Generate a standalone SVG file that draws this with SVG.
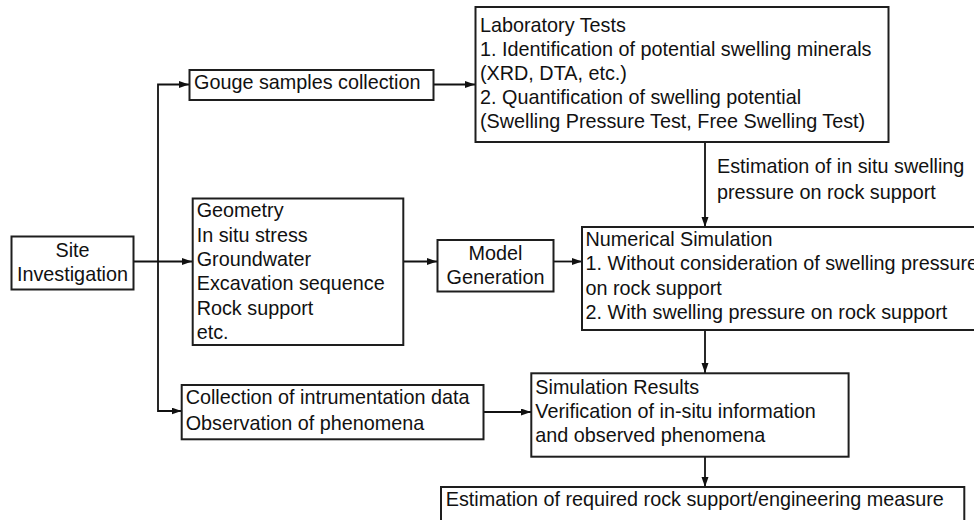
<svg xmlns="http://www.w3.org/2000/svg" width="974" height="520" viewBox="0 0 974 520">
  <style>
    .box { fill: #ffffff; stroke: #1e1e1e; stroke-width: 2; }
    .lbl { font-family: "Liberation Sans", Arial, sans-serif; font-size: 19.8px; fill: #111111; }
    .mid { text-anchor: middle; }
    .wire { fill: none; stroke: #111111; stroke-width: 1.8; }
  </style>
  <defs>
    <marker id="arrow" markerUnits="userSpaceOnUse" markerWidth="11" markerHeight="8" refX="10" refY="3.5" orient="auto">
      <path d="M0,0 L10,3.5 L0,7 z" fill="#111111"/>
    </marker>
  </defs>
  <rect width="974" height="520" fill="#ffffff"/>

  <!-- connectors -->
  <g id="connectors">
    <line class="wire" x1="133" y1="261.5" x2="192" y2="261.5" marker-end="url(#arrow)"/>
    <polyline class="wire" points="158,261.5 158,84.5 189,84.5" marker-end="url(#arrow)"/>
    <polyline class="wire" points="158,261.5 158,411 181.5,411" marker-end="url(#arrow)"/>
    <line class="wire" x1="433" y1="84.5" x2="475" y2="84.5" marker-end="url(#arrow)"/>
    <line class="wire" x1="403" y1="261.5" x2="437" y2="261.5" marker-end="url(#arrow)"/>
    <line class="wire" x1="553.5" y1="261.5" x2="582" y2="261.5" marker-end="url(#arrow)"/>
    <line class="wire" x1="705" y1="142" x2="705" y2="227" marker-end="url(#arrow)"/>
    <line class="wire" x1="705" y1="330" x2="705" y2="373" marker-end="url(#arrow)"/>
    <line class="wire" x1="483.5" y1="412" x2="531" y2="412" marker-end="url(#arrow)"/>
    <line class="wire" x1="705" y1="457" x2="705" y2="487" marker-end="url(#arrow)"/>
    <text class="lbl" x="717" y="172.5">Estimation of in situ swelling</text>
    <text class="lbl" x="717" y="198.5">pressure on rock support</text>
  </g>

  <!-- nodes -->
  <g id="site-investigation">
    <rect class="box" x="11.5" y="236.5" width="122" height="53"/>
    <text class="lbl mid" x="72.5" y="256.7">Site</text>
    <text class="lbl mid" x="72.5" y="280.7">Investigation</text>
  </g>

  <g id="gouge-samples">
    <rect class="box" x="189.5" y="70" width="244" height="30"/>
    <text class="lbl" x="194" y="89.3">Gouge samples collection</text>
  </g>

  <g id="laboratory-tests">
    <rect class="box" x="475.5" y="7" width="413" height="135"/>
    <text class="lbl" x="480" y="31.7">Laboratory Tests</text>
    <text class="lbl" x="480" y="55.6">1. Identification of potential swelling minerals</text>
    <text class="lbl" x="480" y="79.5">(XRD, DTA, etc.)</text>
    <text class="lbl" x="480" y="103.5">2. Quantification of swelling potential</text>
    <text class="lbl" x="480" y="127.5">(Swelling Pressure Test, Free Swelling Test)</text>
  </g>

  <g id="model-inputs">
    <rect class="box" x="192.7" y="198.5" width="210.6" height="146.5"/>
    <text class="lbl" x="196.7" y="217.2">Geometry</text>
    <text class="lbl" x="196.7" y="241.6">In situ stress</text>
    <text class="lbl" x="196.7" y="266">Groundwater</text>
    <text class="lbl" x="196.7" y="290.4">Excavation sequence</text>
    <text class="lbl" x="196.7" y="314.8">Rock support</text>
    <text class="lbl" x="196.7" y="339.2">etc.</text>
  </g>

  <g id="model-generation">
    <rect class="box" x="437.5" y="240" width="116" height="51.5"/>
    <text class="lbl mid" x="495.5" y="260">Model</text>
    <text class="lbl mid" x="495.5" y="284">Generation</text>
  </g>

  <g id="numerical-simulation">
    <rect class="box" x="582" y="227" width="420" height="103"/>
    <text class="lbl" x="585.5" y="246">Numerical Simulation</text>
    <text class="lbl" x="585.5" y="270.4">1. Without consideration of swelling pressure</text>
    <text class="lbl" x="585.5" y="294.8">on rock support</text>
    <text class="lbl" x="585.5" y="319.2">2. With swelling pressure on rock support</text>
  </g>

  <g id="field-data">
    <rect class="box" x="181.7" y="385" width="301.8" height="54.3"/>
    <text class="lbl" x="185.7" y="404.3">Collection of intrumentation data</text>
    <text class="lbl" x="185.7" y="429.5">Observation of phenomena</text>
  </g>

  <g id="simulation-results">
    <rect class="box" x="531.3" y="373.3" width="317.3" height="83.4"/>
    <text class="lbl" x="535.3" y="393.5">Simulation Results</text>
    <text class="lbl" x="535.3" y="417.6">Verification of in-situ information</text>
    <text class="lbl" x="535.3" y="441.8">and observed phenomena</text>
  </g>

  <g id="rock-support-estimate">
    <rect class="box" x="441" y="487" width="523.3" height="50"/>
    <text class="lbl" x="445.7" y="506">Estimation of required rock support/engineering measure</text>
  </g>
</svg>
